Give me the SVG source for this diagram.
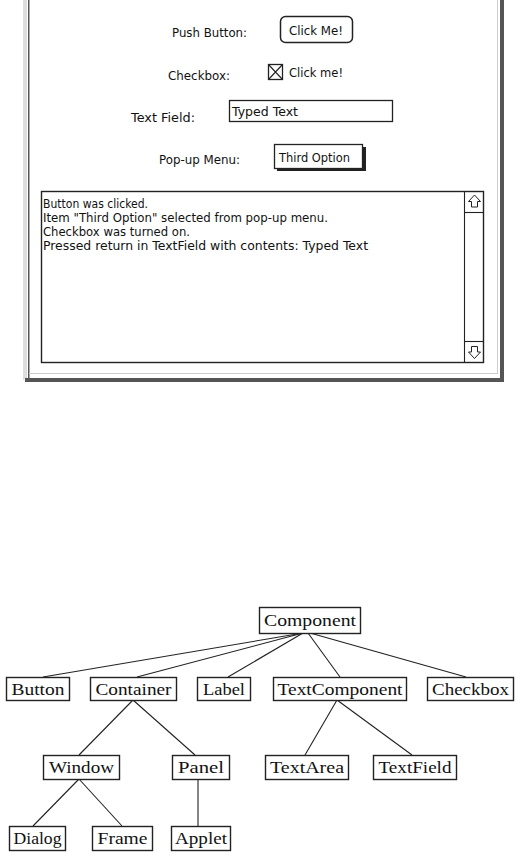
<svg xmlns="http://www.w3.org/2000/svg" width="528" height="856" viewBox="0 0 528 856">
<style>
.ui{font-family:"DejaVu Sans","Liberation Sans",sans-serif;font-size:12px;fill:#111}
.tr{font-family:"Liberation Serif","DejaVu Serif",serif;font-size:17px;fill:#111;text-anchor:middle}
.box{fill:#fff;stroke:#222;stroke-width:1.4}
.ln{stroke:#222;stroke-width:1.1;fill:none}
</style>
<rect width="528" height="856" fill="#fff"/>
<g id="window">
<rect x="23" y="0" width="4" height="376" fill="#ddd"/>
<polygon points="23,376 27,376 27,378 23,380" fill="#ddd"/>
<rect x="28" y="0" width="1.5" height="378" fill="#555"/>
<rect x="497" y="0" width="1" height="374" fill="#ccc"/>
<rect x="29" y="373" width="469" height="1" fill="#ccc"/>
<rect x="500" y="0" width="4" height="382" fill="#555"/>
<rect x="25" y="378" width="479" height="4" fill="#555"/>
</g>
<g id="push-button">
<text class="ui" x="172" y="37" textLength="75" lengthAdjust="spacingAndGlyphs">Push Button:</text>
<rect x="280.5" y="16.5" width="72" height="26" rx="5" fill="#fff" stroke="#222" stroke-width="1.5"/>
<text class="ui" x="289" y="35" textLength="54" lengthAdjust="spacingAndGlyphs">Click Me!</text>
</g>
<g id="checkbox">
<text class="ui" x="168" y="80" textLength="62" lengthAdjust="spacingAndGlyphs">Checkbox:</text>
<rect x="268.5" y="64.5" width="14" height="15" fill="#fff" stroke="#222" stroke-width="1.3"/>
<path d="M268.5 64.5 L282.5 79.5 M282.5 64.5 L268.5 79.5" stroke="#222" stroke-width="1.1"/>
<text class="ui" x="289" y="77" textLength="54" lengthAdjust="spacingAndGlyphs">Click me!</text>
</g>
<g id="text-field">
<text class="ui" x="131" y="122" textLength="64" lengthAdjust="spacingAndGlyphs">Text Field:</text>
<rect x="229.5" y="100.5" width="163" height="21" fill="#fff" stroke="#222" stroke-width="1.3"/>
<text class="ui" x="232" y="116" textLength="66" lengthAdjust="spacingAndGlyphs">Typed Text</text>
</g>
<g id="popup-menu">
<text class="ui" x="159" y="164" textLength="81" lengthAdjust="spacingAndGlyphs">Pop-up Menu:</text>
<rect x="277" y="147" width="89" height="24" fill="#222"/>
<rect x="274.5" y="144.5" width="88" height="24" fill="#fff" stroke="#222" stroke-width="1.3"/>
<text class="ui" x="279" y="162" textLength="71" lengthAdjust="spacingAndGlyphs">Third Option</text>
</g>
<g id="text-area">
<rect x="41.5" y="191.5" width="442" height="171" fill="#fff" stroke="#222" stroke-width="1.4"/>
<line x1="464.5" y1="191" x2="464.5" y2="362" class="ln"/>
<line x1="464" y1="212.5" x2="484" y2="212.5" class="ln"/>
<line x1="464" y1="341.5" x2="484" y2="341.5" class="ln"/>
<path d="M474.5 195 L468.5 201.5 L471.5 201.5 L471.5 207 L477.5 207 L477.5 201.5 L480.5 201.5 Z" fill="#fff" stroke="#222" stroke-width="1"/>
<path d="M474.5 358.5 L468.5 352 L471.5 352 L471.5 346.5 L477.5 346.5 L477.5 352 L480.5 352 Z" fill="#fff" stroke="#222" stroke-width="1"/>
<text class="ui" x="43" y="208" textLength="105" lengthAdjust="spacingAndGlyphs">Button was clicked.</text>
<text class="ui" x="43" y="222" textLength="285" lengthAdjust="spacingAndGlyphs">Item "Third Option" selected from pop-up menu.</text>
<text class="ui" x="43" y="236" textLength="147" lengthAdjust="spacingAndGlyphs">Checkbox was turned on.</text>
<text class="ui" x="43" y="250" textLength="325" lengthAdjust="spacingAndGlyphs">Pressed return in TextField with contents: Typed Text</text>
</g>
<g id="connectors">
<line class="ln" x1="303" y1="633" x2="43" y2="677"/>
<line class="ln" x1="303" y1="633" x2="137" y2="677"/>
<line class="ln" x1="303" y1="633" x2="228" y2="677"/>
<line class="ln" x1="308" y1="633" x2="340" y2="677"/>
<line class="ln" x1="310" y1="633" x2="466" y2="677"/>
<line class="ln" x1="133" y1="700" x2="79" y2="755"/>
<line class="ln" x1="133" y1="700" x2="195" y2="755"/>
<line class="ln" x1="337" y1="700" x2="305" y2="755"/>
<line class="ln" x1="337" y1="700" x2="412" y2="755"/>
<line class="ln" x1="79" y1="779" x2="33" y2="826"/>
<line class="ln" x1="79" y1="779" x2="122" y2="826"/>
<line class="ln" x1="198" y1="779" x2="198" y2="826"/>
</g>
<g id="Component"><rect class="box" x="259.5" y="607.5" width="101" height="26"/><text class="tr" x="310" y="626" textLength="92" lengthAdjust="spacingAndGlyphs">Component</text></g>
<g id="Button"><rect class="box" x="6.5" y="677.5" width="63" height="23"/><text class="tr" x="38" y="695" textLength="53" lengthAdjust="spacingAndGlyphs">Button</text></g>
<g id="Container"><rect class="box" x="90.5" y="677.5" width="86" height="23"/><text class="tr" x="133.5" y="695" textLength="76" lengthAdjust="spacingAndGlyphs">Container</text></g>
<g id="Label"><rect class="box" x="197.5" y="677.5" width="53" height="23"/><text class="tr" x="224" y="695" textLength="42" lengthAdjust="spacingAndGlyphs">Label</text></g>
<g id="TextComponent"><rect class="box" x="273.5" y="677.5" width="133" height="23"/><text class="tr" x="340" y="695" textLength="125" lengthAdjust="spacingAndGlyphs">TextComponent</text></g>
<g id="Checkbox"><rect class="box" x="427.5" y="677.5" width="86" height="23"/><text class="tr" x="470.5" y="695" textLength="77" lengthAdjust="spacingAndGlyphs">Checkbox</text></g>
<g id="Window"><rect class="box" x="43.5" y="755.5" width="76" height="24"/><text class="tr" x="81.5" y="773" textLength="65" lengthAdjust="spacingAndGlyphs">Window</text></g>
<g id="Panel"><rect class="box" x="172.5" y="755.5" width="57" height="24"/><text class="tr" x="201" y="773" textLength="46" lengthAdjust="spacingAndGlyphs">Panel</text></g>
<g id="TextArea"><rect class="box" x="265.5" y="755.5" width="83" height="24"/><text class="tr" x="307" y="773" textLength="74" lengthAdjust="spacingAndGlyphs">TextArea</text></g>
<g id="TextField"><rect class="box" x="373.5" y="755.5" width="83" height="24"/><text class="tr" x="415" y="773" textLength="73" lengthAdjust="spacingAndGlyphs">TextField</text></g>
<g id="Dialog"><rect class="box" x="9.5" y="826.5" width="56" height="24"/><text class="tr" x="37.5" y="844" textLength="48" lengthAdjust="spacingAndGlyphs">Dialog</text></g>
<g id="Frame"><rect class="box" x="92.5" y="826.5" width="60" height="24"/><text class="tr" x="122.5" y="844" textLength="50" lengthAdjust="spacingAndGlyphs">Frame</text></g>
<g id="Applet"><rect class="box" x="171.5" y="826.5" width="59" height="24"/><text class="tr" x="201" y="844" textLength="52" lengthAdjust="spacingAndGlyphs">Applet</text></g>
</svg>
